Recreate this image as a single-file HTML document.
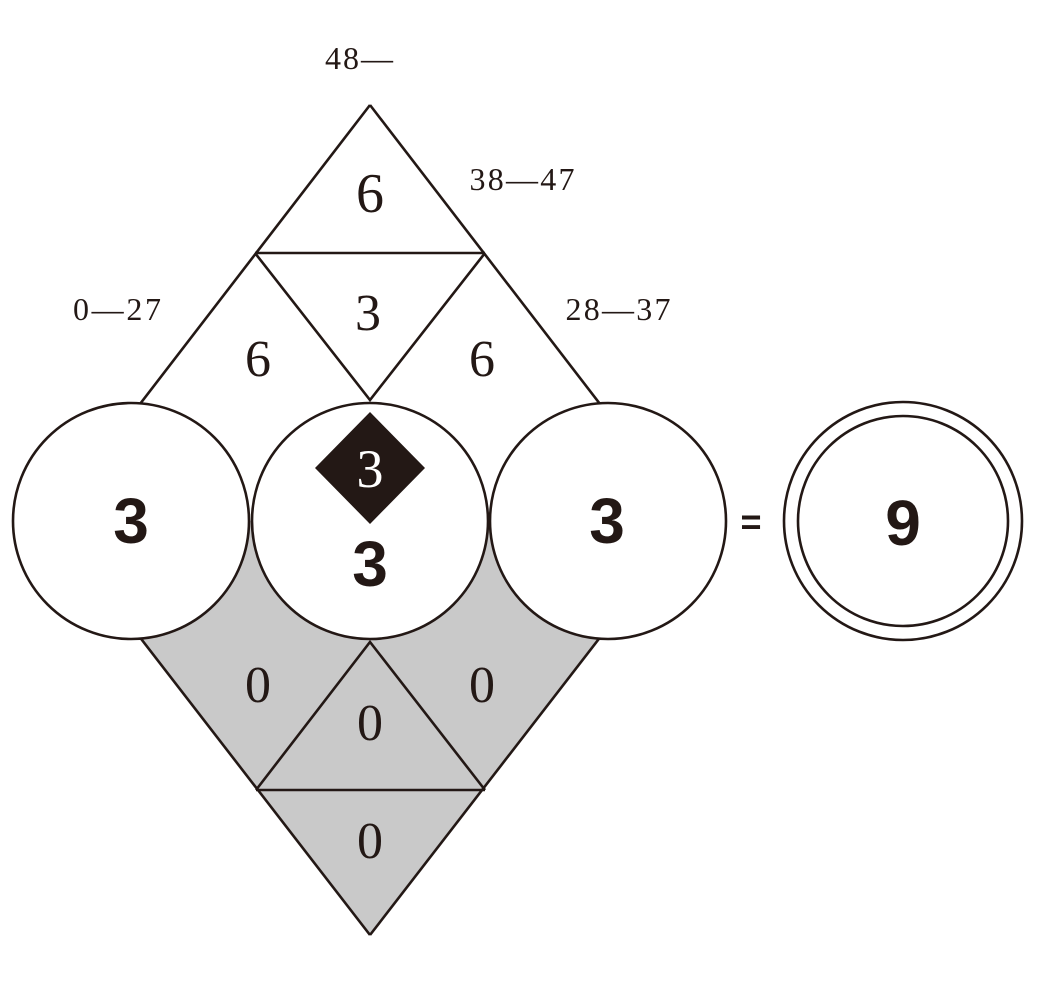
<!DOCTYPE html>
<html><head><meta charset="utf-8"><style>
html,body{margin:0;padding:0;background:#fff;}
svg{display:block;}
.s{font-family:"Liberation Serif",serif;fill:#231815;}
.b{font-family:"Liberation Sans",sans-serif;font-weight:bold;fill:#231815;}
</style></head><body>
<svg width="1045" height="996" viewBox="0 0 1045 996" xmlns="http://www.w3.org/2000/svg">
<g stroke="#231815" stroke-width="2.6" fill="none" stroke-linejoin="miter">
  <polygon points="50,521 370,935 690,521" fill="#c9c9c9" stroke="none"/>
  <line x1="50" y1="521" x2="370" y2="935"/>
  <line x1="690" y1="521" x2="370" y2="935"/>
  <line x1="256" y1="790" x2="485" y2="790"/>
  <polyline points="256,790 370,642 485,790"/>
  <line x1="50" y1="521" x2="370" y2="105"/>
  <line x1="690" y1="521" x2="370" y2="105"/>
  <line x1="255" y1="253" x2="485" y2="253"/>
  <polyline points="255,253 370,400 485,253"/>
  <circle cx="131" cy="521" r="118" fill="#fff"/>
  <circle cx="608" cy="521" r="118" fill="#fff"/>
  <circle cx="370" cy="521" r="118" fill="#fff"/>
  <circle cx="903" cy="521" r="119" fill="#fff"/>
  <circle cx="903" cy="521" r="105"/>
</g>
<polygon points="370,412 425,468 370,524 315,468" fill="#231815"/>
<text class="s" x="359" y="69" font-size="32" text-anchor="middle" textLength="68" lengthAdjust="spacing">48—</text>
<text class="s" x="522" y="190" font-size="32" text-anchor="middle" textLength="105" lengthAdjust="spacing">38—47</text>
<text class="s" x="117" y="320" font-size="32" text-anchor="middle" textLength="88" lengthAdjust="spacing">0—27</text>
<text class="s" x="618" y="320" font-size="32" text-anchor="middle" textLength="105" lengthAdjust="spacing">28—37</text>
<text class="s" x="370" y="212" font-size="56" text-anchor="middle">6</text>
<text class="s" x="368" y="330" font-size="52" text-anchor="middle">3</text>
<text class="s" x="258" y="376" font-size="52" text-anchor="middle">6</text>
<text class="s" x="482" y="376" font-size="52" text-anchor="middle">6</text>
<text class="s" x="370" y="487" font-size="54" text-anchor="middle" style="fill:#fff">3</text>
<text class="b" x="131" y="543" font-size="64" text-anchor="middle">3</text>
<text class="b" x="607" y="543" font-size="64" text-anchor="middle">3</text>
<text class="b" x="370" y="586" font-size="64" text-anchor="middle">3</text>
<text class="b" x="903" y="545" font-size="64" text-anchor="middle">9</text>
<text class="b" x="751" y="534" font-size="36" text-anchor="middle">=</text>
<text class="s" x="258" y="702" font-size="52" text-anchor="middle">0</text>
<text class="s" x="482" y="702" font-size="52" text-anchor="middle">0</text>
<text class="s" x="370" y="740" font-size="52" text-anchor="middle">0</text>
<text class="s" x="370" y="858" font-size="52" text-anchor="middle">0</text>
</svg>
</body></html>
